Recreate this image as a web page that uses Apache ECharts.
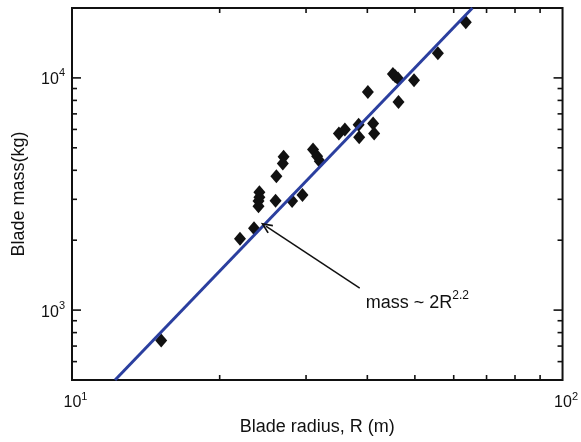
<!DOCTYPE html>
<html>
<head>
<meta charset="utf-8">
<script src="https://cdn.jsdelivr.net/npm/echarts@6/dist/echarts.min.js"></script>
<style>html,body{margin:0;padding:0;background:#fff;}#c{width:581px;height:442px;}</style>
</head>
<body>
<div id="c"></div>
<script>
// ---- data ----
const bladeRadius = [15.2, 22.0, 23.5, 24.1, 24.1, 24.0, 24.0, 26.0, 26.1, 27.0, 26.9, 28.1, 29.5,
  31.0, 31.6, 32.0, 35.0, 36.0, 38.4, 38.5, 41.1, 41.3, 40.1, 46.3, 45.1, 45.6, 46.2, 49.8, 55.7, 63.5];
const bladeMass = [740, 2030, 2250, 3220, 3060, 2950, 2800, 2960, 3770, 4570, 4280, 2950, 3130,
  4920, 4600, 4380, 5760, 6000, 6290, 5550, 6360, 5760, 8700, 7880, 10400, 10170, 9940, 9780, 12780, 17370];
const fitRadius = [12.24, 65.5];
const fitMass = [500, 20000];
const xMinorTicks = [20, 30, 40, 50, 60, 70, 80, 90];
const yMajorTicks = [1000, 10000];
const yMinorTicks = [600, 700, 800, 900, 2000, 3000, 4000, 5000, 6000, 7000, 8000, 9000];
const xRange = [10, 100];
const yRange = [500, 20000];
const arrowFrom = [38.6, 1243];
const arrowTo = [24.84, 2299];
const noteAt = [39.7, 1095];

const FONT = "'Liberation Sans', Arial, Helvetica, sans-serif";

function supLabel(v) {
  const e = Math.round(Math.log10(v));
  if (Math.abs(Math.log10(v) - e) > 1e-6) return '';
  return '{b|10}{s|' + e + '}';
}
const rich = {
  b: {fontSize: 16, fontFamily: FONT, color: '#111', verticalAlign: 'bottom', lineHeight: 20},
  s: {fontSize: 11, fontFamily: FONT, color: '#111', verticalAlign: 'top', lineHeight: 20}
};
const richX = {
  b: Object.assign({}, rich.b, {padding: [0, 0, 0, 7]}),
  s: rich.s
};

function xTickItem(params, api) {
  const v = api.value(0);
  const b = api.coord([v, yRange[0]]);
  const t = api.coord([v, yRange[1]]);
  const st = {stroke: '#111', lineWidth: 1.6};
  return {type: 'group', children: [
    {type: 'line', shape: {x1: b[0], y1: b[1], x2: b[0], y2: b[1] - 5}, style: st},
    {type: 'line', shape: {x1: t[0], y1: t[1], x2: t[0], y2: t[1] + 5}, style: st}
  ]};
}
function yTickItem(len) {
  return function (params, api) {
    const v = api.value(1);
    const l = api.coord([xRange[0], v]);
    const r = api.coord([xRange[1], v]);
    const st = {stroke: '#111', lineWidth: 1.6};
    return {type: 'group', children: [
      {type: 'line', shape: {x1: l[0], y1: l[1], x2: l[0] + len, y2: l[1]}, style: st},
      {type: 'line', shape: {x1: r[0], y1: r[1], x2: r[0] - len, y2: r[1]}, style: st}
    ]};
  };
}

const chart = echarts.init(document.getElementById('c'), null, {renderer: 'canvas'});
chart.setOption({
  animation: false,
  backgroundColor: '#fff',
  grid: {left: 72, right: 18, top: 8, bottom: 62, show: true, borderColor: '#111', borderWidth: 2, backgroundColor: 'transparent'},
  xAxis: {
    type: 'log', logBase: 10, min: xRange[0], max: xRange[1],
    axisLine: {show: false}, axisTick: {show: false}, splitLine: {show: false},
    axisLabel: {formatter: supLabel, rich: richX, margin: 11, showMinLabel: true, showMaxLabel: true},
    name: 'Blade radius, R (m)', nameLocation: 'middle', nameGap: 38,
    nameTextStyle: {fontSize: 18, fontFamily: FONT, color: '#111'}
  },
  yAxis: {
    type: 'log', logBase: 10, min: yRange[0], max: yRange[1],
    axisLine: {show: false}, axisTick: {show: false}, splitLine: {show: false},
    axisLabel: {formatter: supLabel, rich: rich, margin: 7, showMinLabel: false, showMaxLabel: false},
    name: 'Blade mass(kg)', nameLocation: 'middle', nameGap: 44,
    nameTextStyle: {fontSize: 18, fontFamily: FONT, color: '#111'}
  },
  series: [
    {
      type: 'line', data: fitRadius.map((r, i) => [r, fitMass[i]]),
      showSymbol: false, symbol: 'none', lineStyle: {color: '#2b3f9f', width: 3}, z: 3
    },
    {
      type: 'scatter', data: bladeRadius.map((r, i) => [r, bladeMass[i]]),
      symbol: 'diamond', symbolSize: [12, 14], itemStyle: {color: '#111', opacity: 1}, z: 2,
      markLine: {
        silent: true, symbol: ['none', 'path://M5,0 L10,11 L8.6,11.8 L5,4 L1.4,11.8 L0,11 Z'],
        symbolSize: [10, 12],
        lineStyle: {color: '#111', width: 1.5, type: 'solid'},
        label: {show: false},
        data: [[{coord: arrowFrom}, {coord: arrowTo}]]
      },
      markPoint: {
        silent: true, symbol: 'circle', symbolSize: 0,
        itemStyle: {color: 'transparent'},
        label: {
          show: true, position: 'right', distance: 0,
          formatter: '{b|mass ~ 2R}{s|2.2}',
          rich: {
            b: {fontSize: 18, fontFamily: FONT, color: '#111', verticalAlign: 'bottom', lineHeight: 22},
            s: {fontSize: 12, fontFamily: FONT, color: '#111', verticalAlign: 'top', lineHeight: 22}
          }
        },
        data: [{coord: noteAt}]
      }
    },
    {type: 'custom', renderItem: xTickItem, data: xMinorTicks.map(v => [v, yRange[0]]), clip: false, silent: true, z: 5},
    {type: 'custom', renderItem: yTickItem(9), data: yMajorTicks.map(v => [xRange[0], v]), clip: false, silent: true, z: 5},
    {type: 'custom', renderItem: yTickItem(5), data: yMinorTicks.map(v => [xRange[0], v]), clip: false, silent: true, z: 5}
  ]
});
</script>
</body>
</html>
